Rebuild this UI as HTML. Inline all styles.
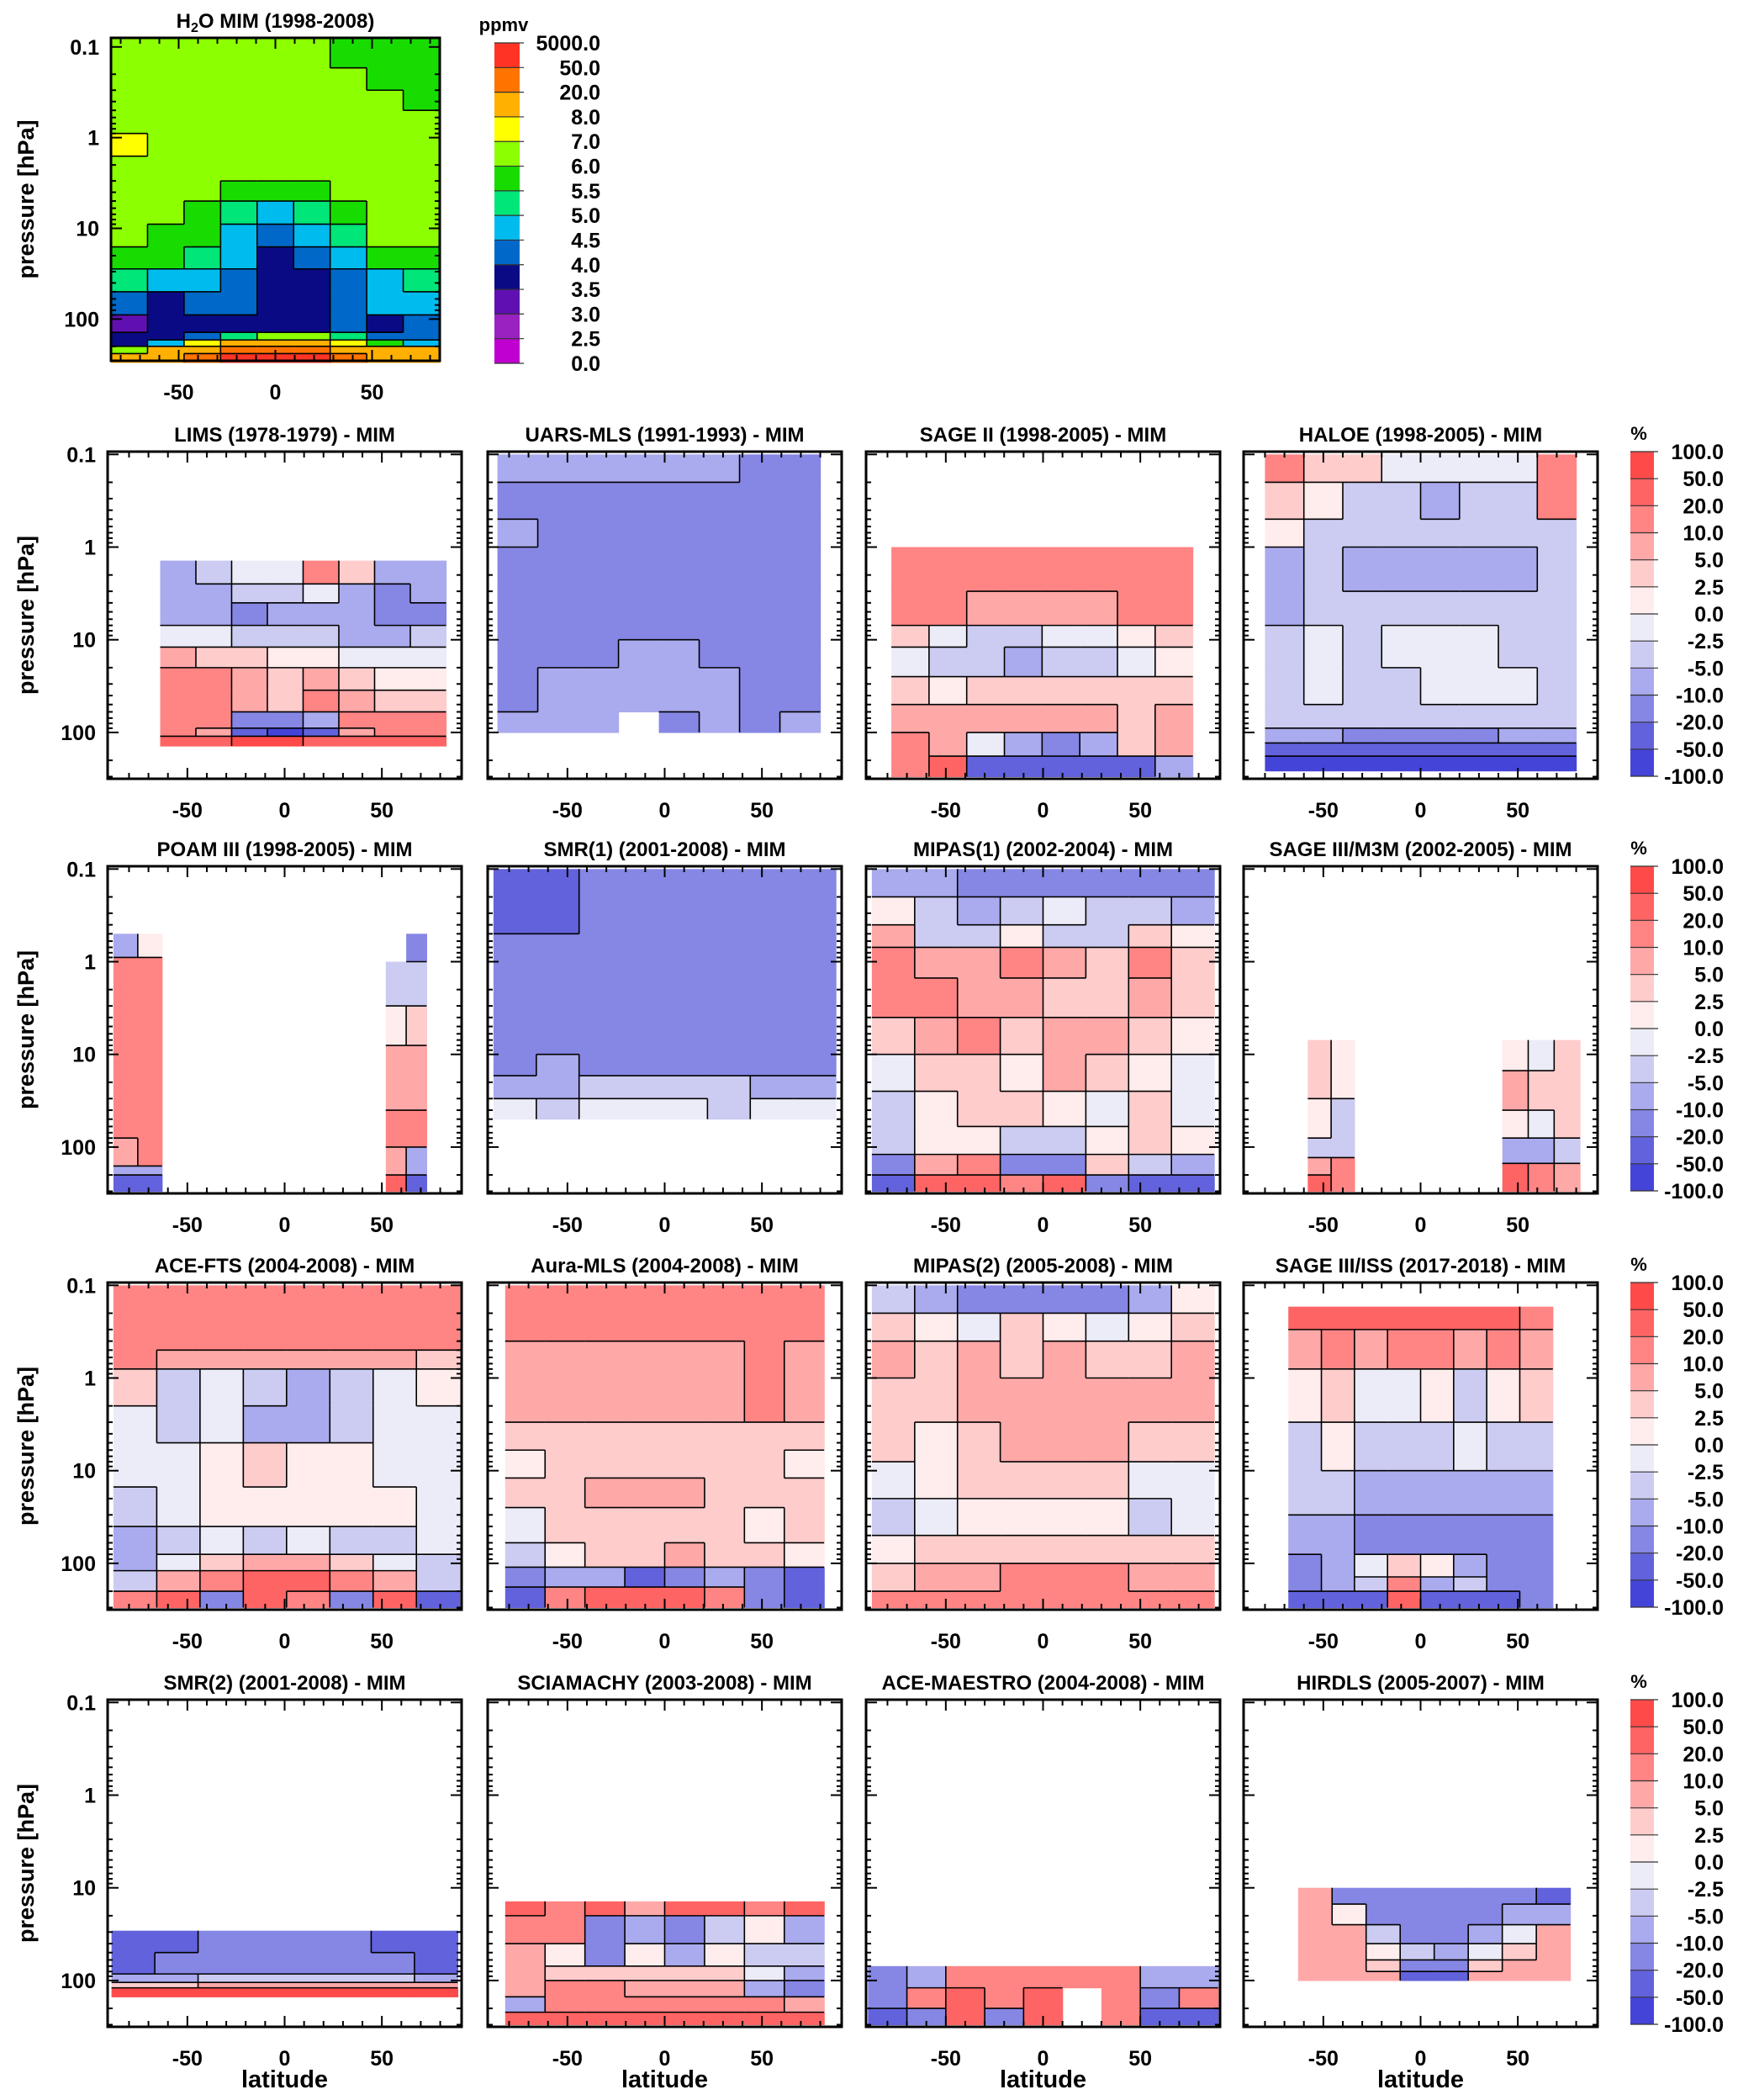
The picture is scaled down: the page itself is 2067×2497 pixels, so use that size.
<!DOCTYPE html>
<html><head><meta charset="utf-8"><style>
html,body{margin:0;padding:0;background:#fff;}
svg{display:block;font-family:"Liberation Sans",sans-serif;font-weight:bold;}
</style></head><body>
<svg id="fig" xmlns="http://www.w3.org/2000/svg" width="2067" height="2497" viewBox="0 0 2067 2497"></svg>
<script>
// ---------- colour levels ----------
const pctBounds = [-100,-50,-20,-10,-5,-2.5,0,2.5,5,10,20,50,100];
const pctColors = ["#4444d8","#6262dc","#8686e4","#aaaaee","#ccccf2","#ececf8","#ffecec","#ffcccc","#ffa8a8","#ff8484","#ff6464","#ff4a4a"];
const pctLabels = ["100.0","50.0","20.0","10.0","5.0","2.5","0.0","-2.5","-5.0","-10.0","-20.0","-50.0","-100.0"];
const h2oBounds = [0,2.5,3,3.5,4,4.5,5,5.5,6,7,8,20,50,5000];
const h2oColors = ["#c000d0","#9a22c0","#6010b0","#0a0a84","#0068c8","#00bcee","#00e678","#18dc00","#8cff00","#ffff00","#ffb000","#ff7400","#ff3424"];
const h2oLabels = ["5000.0","50.0","20.0","8.0","7.0","6.0","5.5","5.0","4.5","4.0","3.5","3.0","2.5","0.0"];

// ---------- data (lat range, pressure edges hPa, values) ----------
const h2oLat = [-85,85];
const h2oP = [0.08,0.17,0.3,0.5,0.9,1.6,3,5,9,16,28,50,90,140,170,200,240,300];
const h2oVals = [
[6.2,6.5,6.5,6.5,6.5,6.5,5.7,5.7,5.7],
[6.5,6.5,6.5,6.5,6.5,6.5,6.5,5.7,5.7],
[6.5,6.5,6.5,6.5,6.5,6.5,6.5,6.5,5.7],
[6.5,6.5,6.5,6.5,6.5,6.5,6.5,6.5,6.5],
[7.5,6.5,6.5,6.5,6.5,6.5,6.5,6.5,6.5],
[6.5,6.5,6.5,6.5,6.5,6.5,6.5,6.5,6.5],
[6.5,6.5,6.5,5.7,5.7,5.7,6.5,6.5,6.5],
[6.5,6.5,5.7,5.2,4.8,5.2,5.7,6.5,6.5],
[6.5,5.7,5.7,4.8,4.2,4.8,5.2,6.5,6.5],
[5.7,5.7,5.2,4.8,3.8,4.2,4.8,5.7,5.7],
[5.2,4.8,4.8,4.2,3.8,3.8,4.2,4.8,5.2],
[4.2,3.8,4.2,4.2,3.8,3.8,4.2,4.8,4.8],
[3.2,3.8,3.8,3.8,3.8,3.8,4.2,3.8,4.2],
[3.8,3.8,4.2,5.2,6.5,6.5,5.2,4.2,4.2],
[3.8,4.8,7.5,10,10,10,7.5,5.7,4.8],
[6.5,10,10,30,30,30,10,10,10],
[10,10,30,100,100,100,30,10,10]];

const limsLat = [-64,83];
const limsP = [1.4,2.5,4,7,12,20,35,60,90,110,140];
const limsVals = [
[-7,-4,-1,-1,15,4,-7,-7],
[-7,-7,-4,-4,-1,-7,-15,-7],
[-7,-7,-15,-7,-7,-7,-15,-15],
[-1,-1,-4,-4,-4,-7,-7,-4],
[7,4,4,1,1,-1,-1,-1],
[15,15,7,4,7,4,1,1],
[15,15,7,4,15,7,4,4],
[15,15,-15,-15,-7,15,15,15],
[15,7,-35,-75,-35,7,15,15],
[35,35,75,75,35,35,35,35]];

const uarsLat = [-86,80];
const uarsP = [0.1,0.2,0.5,1,3,10,20,40,60,100];
const uarsVals = [
[-7,-7,-7,-7,-7,-7,-15,-15],
[-15,-15,-15,-15,-15,-15,-15,-15],
[-7,-15,-15,-15,-15,-15,-15,-15],
[-15,-15,-15,-15,-15,-15,-15,-15],
[-15,-15,-15,-15,-15,-15,-15,-15],
[-15,-15,-15,-7,-7,-15,-15,-15],
[-15,-7,-7,-7,-7,-7,-15,-15],
[-15,-7,-7,-7,-7,-7,-15,-15],
[-7,-7,-7,null,-15,-7,-15,-7]];

const sage2Lat = [-78,77];
const sage2P = [1,3,7,12,25,50,100,180,300];
const sage2Vals = [
[15,15,15,15,15,15,15,15],
[15,15,7,7,7,7,15,15],
[4,-1,-4,-4,-1,-1,1,4],
[-1,-4,-4,-7,-4,-4,-1,1],
[4,1,4,4,4,4,4,4],
[7,7,7,7,7,7,4,7],
[15,7,-1,-7,-15,-7,4,7],
[15,35,-35,-35,-35,-35,-35,-7]];

const haloeLat = [-80,80];
const haloeP = [0.1,0.2,0.5,1,3,7,20,50,90,130,180,260];
const haloeVals = [
[15,4,4,-1,-1,-1,-1,15],
[4,1,-4,-4,-7,-4,-4,15],
[1,-4,-4,-4,-4,-4,-4,-4],
[-7,-4,-7,-7,-7,-7,-7,-4],
[-7,-4,-4,-4,-4,-4,-4,-4],
[-4,-1,-4,-1,-1,-1,-4,-4],
[-4,-1,-4,-4,-1,-1,-1,-4],
[-4,-4,-4,-4,-4,-4,-4,-4],
[-7,-7,-15,-15,-15,-15,-7,-7],
[-35,-35,-35,-35,-35,-35,-35,-35],
[-75,-75,-75,-75,-75,-75,-75,-75]];

const poamLatA = [-88,-63];
const poamPA = [0.5,0.9,80,160,200,300];
const poamValsA = [[-7,1],[15,15],[7,15],[-7,-7],[-35,-35]];
const poamLatB = [52,73];
const poamPB = [0.5,1,3,8,40,100,200,300];
const poamValsB = [[null,-15],[-4,-4],[1,4],[7,7],[15,15],[7,-7],[35,-35]];

const smr1Lat = [-88,88];
const smr1P = [0.1,0.5,10,17,30,50];
const smr1Vals = [
[-35,-35,-15,-15,-15,-15,-15,-15],
[-15,-15,-15,-15,-15,-15,-15,-15],
[-15,-7,-15,-15,-15,-15,-15,-15],
[-7,-7,-4,-4,-4,-4,-7,-7],
[-1,-4,-1,-1,-1,-4,-1,-1]];

const mipas1Lat = [-88,88];
const mipas1P = [0.1,0.2,0.4,0.7,1.5,4,10,25,60,120,200,300];
const mipas1Vals = [
[-7,-7,-15,-15,-15,-15,-15,-15],
[1,-4,-7,-4,-1,-4,-4,-7],
[7,-4,-4,1,-4,-4,4,1],
[15,7,7,15,7,4,15,4],
[15,15,7,7,4,4,7,4],
[4,7,15,4,7,7,4,1],
[-1,4,4,1,7,4,1,-1],
[-4,1,4,4,1,-1,4,-1],
[-4,1,1,-4,-4,1,4,1],
[-15,7,15,-15,-15,4,-4,-7],
[-35,35,35,15,35,-15,-35,-35]];

const sage3mLatA = [-58,-34];
const sage3mPA = [7,30,80,130,200,300];
const sage3mValsA = [[4,1],[1,-4],[-4,-4],[7,15],[35,15]];
const sage3mLatB = [42,82];
const sage3mPB = [7,15,40,80,150,300];
const sage3mValsB = [[1,-1,4],[7,4,4],[1,-1,4],[-7,-7,-4],[35,15,7]];

const aceLat = [-88,90];
const aceP = [0.1,0.5,0.8,2,5,15,40,80,120,200,300];
const aceVals = [
[15,15,15,15,15,15,15,15],
[15,7,7,7,7,7,7,4],
[4,-4,-1,-4,-7,-4,-1,1],
[-1,-4,-1,-7,-7,-4,-1,-1],
[-1,-1,1,4,1,1,-1,-1],
[-4,-1,1,1,1,1,1,-1],
[-7,-4,-1,-4,-1,-4,-4,-1],
[-7,-1,4,7,7,4,-1,-4],
[-4,7,15,35,35,15,7,-4],
[15,35,-15,35,15,-15,35,-35]];

const auraLat = [-82,82];
const auraP = [0.1,0.4,3,6,12,25,60,110,180,300];
const auraVals = [
[15,15,15,15,15,15,15,15],
[7,7,7,7,7,7,15,7],
[4,4,4,4,4,4,4,4],
[1,4,4,4,4,4,4,1],
[4,4,7,7,7,4,4,4],
[-1,4,4,4,4,4,1,4],
[-4,1,4,4,7,4,4,1],
[-15,-7,-7,-35,-15,-7,-15,-35],
[-35,15,35,35,35,15,-15,-35]];

const mipas2Lat = [-88,88];
const mipas2P = [0.1,0.2,0.4,1,3,8,20,50,100,200,300];
const mipas2Vals = [
[-4,-7,-15,-15,-15,-15,-7,1],
[4,1,-1,4,1,-1,1,4],
[7,4,7,4,7,4,4,7],
[4,4,7,7,7,7,7,7],
[4,1,4,7,7,7,4,4],
[-1,1,4,4,4,4,-1,-1],
[-4,-1,1,1,1,1,-4,-1],
[1,4,4,4,4,4,4,4],
[4,7,7,15,15,15,7,7],
[15,15,15,15,15,15,15,15]];

const sage3iLat = [-68,68];
const sage3iP = [0.17,0.3,0.8,3,10,30,80,140,200,300];
const sage3iVals = [
[35,35,35,35,35,35,35,15],
[7,15,7,15,15,7,15,7],
[1,4,-1,-1,1,-4,1,4],
[-4,1,-4,-4,-4,-1,-4,-4],
[-4,-4,-7,-7,-7,-7,-7,-7],
[-7,-7,-15,-15,-15,-15,-15,-15],
[-15,-7,-1,4,1,-7,-15,-15],
[-15,-7,-4,15,-7,-4,-15,-15],
[-35,-35,-35,35,-35,-35,-35,-15]];

const smr2Lat = [-89,89];
const smr2P = [29,50,85,105,120,150];
const smr2Vals = [
[-35,-35,-15,-15,-15,-15,-35,-35],
[-35,-15,-15,-15,-15,-15,-15,-35],
[-7,-7,-4,-4,-4,-4,-4,-7],
[4,4,7,7,7,7,7,7],
[75,75,75,75,75,75,75,75]];

const sciaLat = [-82,82];
const sciaP = [14,20,40,70,100,150,220,300];
const sciaVals = [
[35,15,35,7,35,35,15,35],
[15,15,-15,-7,-15,-4,1,-7],
[7,1,-15,1,-7,1,-4,-4],
[7,4,4,4,4,4,-1,-7],
[7,15,15,7,7,7,-7,-15],
[-7,15,15,15,15,15,15,7],
[35,35,35,35,35,35,35,35]];

const maestroLat = [-90,90];
const maestroP = [70,120,200,300];
const maestroVals = [
[-15,-7,15,15,15,15,15,-7,-7],
[-15,15,35,15,35,null,15,-15,15],
[-35,-15,35,-15,35,null,15,-35,-35]];

const hirdlsLat = [-63,77];
const hirdlsP = [10,15,25,40,60,80,100];
const hirdlsVals = [
[7,-15,-15,-15,-15,-15,-15,-35],
[7,1,-15,-15,-15,-15,-7,-7],
[7,7,-4,-15,-15,-7,-1,7],
[7,7,1,-4,-7,-1,4,7],
[7,7,4,-15,-15,4,7,7],
[7,7,7,-35,-35,7,7,7]];

// ---------- layout ----------
const svg = document.getElementById('fig');
const NS = 'http://www.w3.org/2000/svg';
const colX = [128,580,1030,1479];
const rowY = [537,1030,1525,2021];
const PW = 421, PH = 389;

function mk(tag, attrs, parent){
  const e = document.createElementNS(NS, tag);
  for (const k in attrs) e.setAttribute(k, attrs[k]);
  (parent||svg).appendChild(e);
  return e;
}
function txt(str, x, y, size, anchor, parent){
  const t = mk('text', {x:x, y:y, 'font-size':size, 'text-anchor':anchor||'middle', fill:'#000'}, parent);
  t.textContent = str;
  return t;
}
function bandIdx(v, bounds){
  for (let i=0;i<bounds.length-1;i++) if (v < bounds[i+1]) return i;
  return bounds.length-2;
}

function drawPanel(spec){
  const g = mk('g', {});
  
  
  const fr = spec.frame;
  const xOf = lat => fr.x + (lat - fr.lat0)/(fr.lat1 - fr.lat0)*fr.w;
  const yOf = p => fr.y + (Math.log10(p) - fr.lp0)/(fr.lp1 - fr.lp0)*fr.h;
  const cells = mk('g', {}, g);
  
  
  const lines = [];
  spec.blocks.forEach(b => {
    const nr = b.vals.length, nc = b.vals[0].length;
    const dl = (b.lat[1]-b.lat[0])/nc;
    for (let r=0;r<nr;r++) for (let c=0;c<nc;c++){
      const v = b.vals[r][c];
      if (v === null) continue;
      const x0 = xOf(b.lat[0]+c*dl), x1 = xOf(b.lat[0]+(c+1)*dl);
      const y0 = yOf(b.p[r]), y1 = yOf(b.p[r+1]);
      const bi = bandIdx(v, spec.bounds);
      const rc = mk('rect', {x:x0.toFixed(1), y:y0.toFixed(1), width:(x1-x0+0.6).toFixed(1), height:(y1-y0+0.6).toFixed(1), fill:spec.colors[bi]}, cells);
      
      
      if (c+1<nc && b.vals[r][c+1]!==null && bandIdx(b.vals[r][c+1],spec.bounds)!==bi) lines.push([x1,y0,x1,y1]);
      if (r+1<nr && b.vals[r+1][c]!==null && bandIdx(b.vals[r+1][c],spec.bounds)!==bi) lines.push([x0,y1,x1,y1]);
    }
  });
  const lg = mk('g', {stroke:'#000','stroke-width':1.6,fill:'none'}, g);
  
  
  lines.forEach(l => mk('line', {x1:l[0],y1:l[1],x2:l[2],y2:l[3]}, lg));
  // frame
  const box = mk('rect', {x:fr.x, y:fr.y, width:fr.w, height:fr.h, fill:'none', stroke:'#000', 'stroke-width':3}, g);
  
  
  // ticks
  const tg = mk('g', {stroke:'#000','stroke-width':2}, g);
  for (let lat=-80; lat<=80; lat+=10){
    if (lat < fr.lat0 || lat > fr.lat1) continue;
    const L = (lat%50===0)?13:7, x = xOf(lat);
    mk('line',{x1:x,y1:fr.y+fr.h,x2:x,y2:fr.y+fr.h-L},tg);
    mk('line',{x1:x,y1:fr.y,x2:x,y2:fr.y+L},tg);
  }
  for (let d=-1; d<=2; d++){
    for (let m=1; m<=9; m++){
      const p = m*Math.pow(10,d);
      const lp = Math.log10(p);
      if (lp < fr.lp0 || lp > fr.lp1) continue;
      const L = (m===1)?13:6, y = yOf(p);
      mk('line',{x1:fr.x,y1:y,x2:fr.x+L,y2:y},tg);
      mk('line',{x1:fr.x+fr.w,y1:y,x2:fr.x+fr.w-L,y2:y},tg);
    }
  }
  // labels
  [-50,0,50].forEach(lat => {
    const t = txt(String(lat), xOf(lat), fr.y+fr.h+46, 25, 'middle', g);
    
    
  });
  if (spec.yTitle){
    [['0.1',0.1],['1',1],['10',10],['100',100]].forEach(a => {
      const t = txt(a[0], fr.x-14, yOf(a[1])+9, 25, 'end', g);
      
      
    });
    const yt = txt('pressure [hPa]', 0, 0, 27, 'middle', g);
    yt.setAttribute('transform', 'translate(40,'+(fr.y+fr.h/2)+') rotate(-90)');
    
    
  }
  const tt = txt('', fr.x+fr.w/2, fr.y-12, 24, 'middle', g);
  
  
  if (spec.sub){
    tt.appendChild(document.createTextNode('H'));
    const s = document.createElementNS(NS,'tspan'); s.setAttribute('font-size','16'); s.setAttribute('dy','5'); s.textContent='2'; tt.appendChild(s);
    const s2 = document.createElementNS(NS,'tspan'); s2.setAttribute('dy','-5'); s2.textContent='O MIM (1998-2008)'; tt.appendChild(s2);
  } else tt.textContent = spec.title;
  if (spec.xTitle){
    const xt = txt('latitude', fr.x+fr.w/2, fr.y+fr.h+72, 29, 'middle', g);
    
    
  }
}

function drawColorbar(x, y, w, h, colors, labels, unit, labelRight, name){
  const g = mk('g', {});
  
  
  const n = colors.length, bh = h/n;
  for (let i=0;i<n;i++){
    const r = mk('rect',{x:x, y:(y+h-(i+1)*bh).toFixed(1), width:w, height:(bh+0.5).toFixed(1), fill:colors[i]}, g);
    
    
  }
  for (let i=0;i<=n;i++){
    const yy = y + i*bh;
    mk('line',{x1:x, y1:yy, x2:x+w+5, y2:yy, stroke:'#333', 'stroke-width':1.2}, g);
    const t = txt(labels[i], labelRight, yy+9, 25, 'end', g);
    
    
  }
  const u = txt(unit, x+w/2-4, y-14, 22, 'middle', g);
  
  
}

// top panel
drawPanel({name:'h2o-mim-panel', sub:true, yTitle:true, bounds:h2oBounds, colors:h2oColors,
  frame:{x:132,y:45,w:391,h:384,lat0:-85,lat1:85,lp0:-1.1,lp1:2.46},
  blocks:[{lat:h2oLat,p:h2oP,vals:h2oVals}]});
drawColorbar(588, 51, 30, 381, h2oColors, h2oLabels, 'ppmv', 714, 'h2o-colorbar');

const pctPanels = [
 ['lims-panel','LIMS (1978-1979) - MIM',0,0,[{lat:limsLat,p:limsP,vals:limsVals}]],
 ['uars-mls-panel','UARS-MLS (1991-1993) - MIM',0,1,[{lat:uarsLat,p:uarsP,vals:uarsVals}]],
 ['sage2-panel','SAGE II (1998-2005) - MIM',0,2,[{lat:sage2Lat,p:sage2P,vals:sage2Vals}]],
 ['haloe-panel','HALOE (1998-2005) - MIM',0,3,[{lat:haloeLat,p:haloeP,vals:haloeVals}]],
 ['poam3-panel','POAM III (1998-2005) - MIM',1,0,[{lat:poamLatA,p:poamPA,vals:poamValsA},{lat:poamLatB,p:poamPB,vals:poamValsB}]],
 ['smr1-panel','SMR(1) (2001-2008) - MIM',1,1,[{lat:smr1Lat,p:smr1P,vals:smr1Vals}]],
 ['mipas1-panel','MIPAS(1) (2002-2004) - MIM',1,2,[{lat:mipas1Lat,p:mipas1P,vals:mipas1Vals}]],
 ['sage3-m3m-panel','SAGE III/M3M (2002-2005) - MIM',1,3,[{lat:sage3mLatA,p:sage3mPA,vals:sage3mValsA},{lat:sage3mLatB,p:sage3mPB,vals:sage3mValsB}]],
 ['ace-fts-panel','ACE-FTS (2004-2008) - MIM',2,0,[{lat:aceLat,p:aceP,vals:aceVals}]],
 ['aura-mls-panel','Aura-MLS (2004-2008) - MIM',2,1,[{lat:auraLat,p:auraP,vals:auraVals}]],
 ['mipas2-panel','MIPAS(2)  (2005-2008) - MIM',2,2,[{lat:mipas2Lat,p:mipas2P,vals:mipas2Vals}]],
 ['sage3-iss-panel','SAGE III/ISS  (2017-2018) - MIM',2,3,[{lat:sage3iLat,p:sage3iP,vals:sage3iVals}]],
 ['smr2-panel','SMR(2) (2001-2008) - MIM',3,0,[{lat:smr2Lat,p:smr2P,vals:smr2Vals}]],
 ['sciamachy-panel','SCIAMACHY (2003-2008) - MIM',3,1,[{lat:sciaLat,p:sciaP,vals:sciaVals}]],
 ['ace-maestro-panel','ACE-MAESTRO (2004-2008) - MIM',3,2,[{lat:maestroLat,p:maestroP,vals:maestroVals}]],
 ['hirdls-panel','HIRDLS (2005-2007) - MIM',3,3,[{lat:hirdlsLat,p:hirdlsP,vals:hirdlsVals}]]
];
pctPanels.forEach(a => {
  drawPanel({name:a[0], title:a[1], yTitle:a[3]===0, xTitle:a[2]===3, bounds:pctBounds, colors:pctColors,
    frame:{x:colX[a[3]], y:rowY[a[2]], w:PW, h:PH, lat0:-91, lat1:91, lp0:-1.03, lp1:2.5},
    blocks:a[4]});
});
rowY.forEach((y,i) => drawColorbar(1939, y, 28, PH-3, pctColors, pctLabels, '%', 2050, 'percent-colorbar-'+(i+1)));
</script>
</body></html>
